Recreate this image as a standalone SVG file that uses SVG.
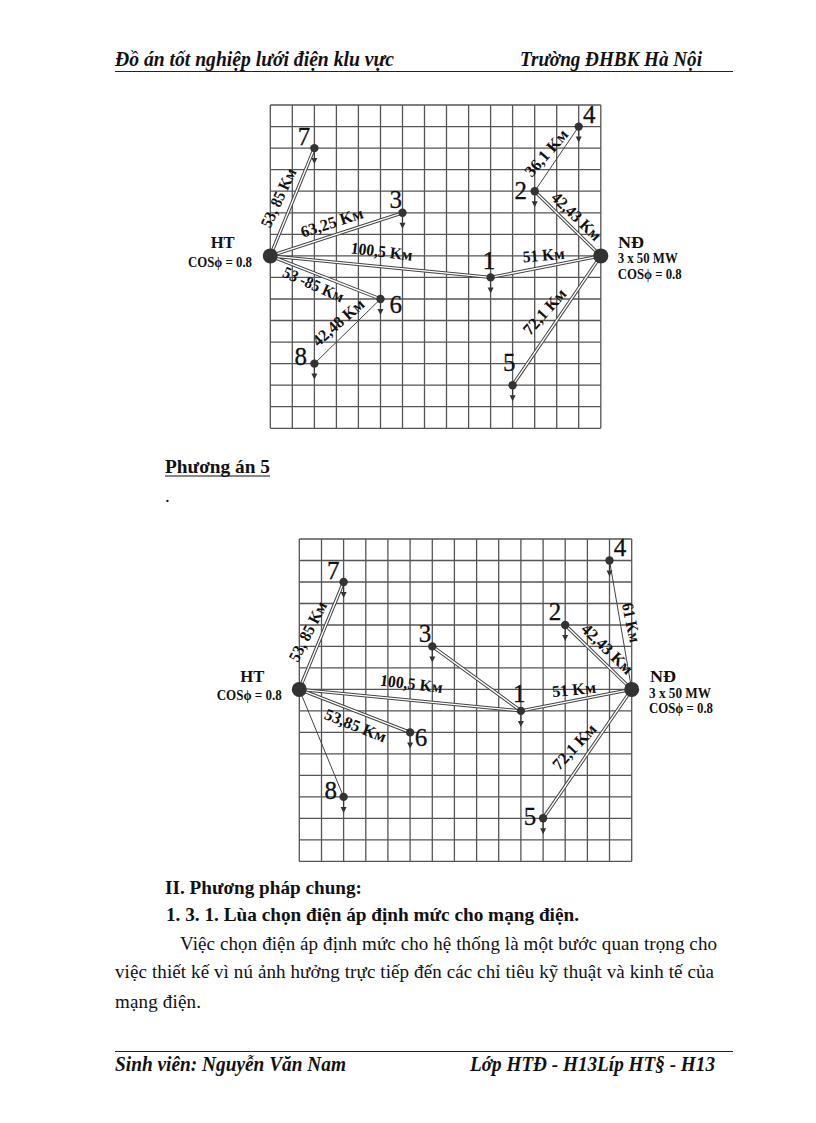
<svg xmlns="http://www.w3.org/2000/svg" xmlns:xlink="http://www.w3.org/1999/xlink" width="816" height="1123" viewBox="0 0 816 1123">
<style>
text{font-family:"Liberation Serif","Times New Roman",serif;fill:#111}
.grid{fill:none;stroke:#555;stroke-width:1.3}
.dbl{stroke:#444;stroke-width:3.4;fill:none}
.dbi{stroke:#fff;stroke-width:1.4;fill:none}
.sgl{stroke:#444;stroke-width:1;fill:none}
.n{fill:#333}
.num{font-size:25px;stroke:#111;stroke-width:.3}
.km{font-size:16.5px;font-weight:bold}
.nm{font-size:17px;font-weight:bold}
.sm{font-size:14px;font-weight:bold}
.hd{font-size:20px;font-weight:bold;font-style:italic}
.b{font-size:19px;font-weight:bold}
.p{font-size:19px}
</style>
<defs>
<g id="load"><circle class="n" r="4.2"/><path d="M0 0V11" stroke="#333" stroke-width="1"/><path class="n" d="M-3 10H3L0 16Z"/></g>
</defs>
<rect width="816" height="1123" fill="#fff"/>

<g id="page-header">
<text class="hd" x="115" y="66" textLength="279" lengthAdjust="spacingAndGlyphs">Đồ án tốt nghiệp lưới điện klu vực</text>
<text class="hd" x="520" y="66" textLength="182" lengthAdjust="spacingAndGlyphs">Trường ĐHBK Hà Nội</text>
<path d="M115 71.5H733" stroke="#222" stroke-width="1"/>
</g>

<g id="grid-1"><path class="grid" d="M270.3 105V428.3M292.3 105V428.3M314.4 105V428.3M336.4 105V428.3M358.4 105V428.3M380.5 105V428.3M402.5 105V428.3M424.5 105V428.3M446.5 105V428.3M468.6 105V428.3M490.6 105V428.3M512.6 105V428.3M534.7 105V428.3M556.7 105V428.3M578.7 105V428.3M600.8 105V428.3M270.3 105H600.8M270.3 126.6H600.8M270.3 148.1H600.8M270.3 169.7H600.8M270.3 191.2H600.8M270.3 212.8H600.8M270.3 234.3H600.8M270.3 255.9H600.8M270.3 277.4H600.8M270.3 299H600.8M270.3 320.5H600.8M270.3 342.1H600.8M270.3 363.6H600.8M270.3 385.2H600.8M270.3 406.7H600.8M270.3 428.3H600.8"/></g>

<g id="connectors-1">
<path class="dbl" d="M270.3 255.9L314.4 148.1M270.3 255.9L402.5 212.8M270.3 255.9L490.6 277.4M270.3 255.9L380.5 299M534.7 191.2L600.8 255.9M490.6 277.4L600.8 255.9M512.6 385.2L600.8 255.9"/>
<path class="dbi" d="M270.3 255.9L314.4 148.1M270.3 255.9L402.5 212.8M270.3 255.9L490.6 277.4M270.3 255.9L380.5 299M534.7 191.2L600.8 255.9M490.6 277.4L600.8 255.9M512.6 385.2L600.8 255.9"/>
<path class="sgl" d="M380.5 299L314.4 363.6M534.7 191.2L578.7 126.6"/>
<g class="km">
<text transform="translate(279 198) rotate(-65)" text-anchor="middle" y="5" textLength="63" lengthAdjust="spacingAndGlyphs">53, 85 Kм</text>
<text transform="translate(332 223) rotate(-18)" text-anchor="middle" y="5" textLength="65" lengthAdjust="spacingAndGlyphs">63,25 Kм</text>
<text transform="translate(381.7 252) rotate(7)" text-anchor="middle" y="5" textLength="62" lengthAdjust="spacingAndGlyphs">100,5 Kм</text>
<text transform="translate(313.3 285) rotate(24)" text-anchor="middle" y="5" textLength="65" lengthAdjust="spacingAndGlyphs">53 -85 Kм</text>
<text transform="translate(338.7 322.7) rotate(-41)" text-anchor="middle" y="5" textLength="63" lengthAdjust="spacingAndGlyphs">42,48 Kм</text>
<text transform="translate(546.7 153.3) rotate(-49)" text-anchor="middle" y="5" textLength="57" lengthAdjust="spacingAndGlyphs">36,1 Kм</text>
<text transform="translate(576 216.7) rotate(44)" text-anchor="middle" y="5" textLength="62" lengthAdjust="spacingAndGlyphs">42,43 Kм</text>
<text transform="translate(543.7 255.7) rotate(-5)" text-anchor="middle" y="5" textLength="42" lengthAdjust="spacingAndGlyphs">51 Kм</text>
<text transform="translate(545 312) rotate(-48)" text-anchor="middle" y="5" textLength="56" lengthAdjust="spacingAndGlyphs">72,1 Kм</text>
</g>
</g>

<g id="d1-HT"><circle class="n" cx="270.3" cy="255.9" r="7.5"/><text class="nm" x="222.7" y="247.7" text-anchor="middle" textLength="24" lengthAdjust="spacingAndGlyphs">HT</text><text class="sm" x="188" y="266.7" textLength="64" lengthAdjust="spacingAndGlyphs">COSϕ = 0.8</text></g>
<g id="d1-ND"><circle class="n" cx="600.8" cy="255.9" r="7.5"/><text class="nm" x="618" y="247.7" textLength="26" lengthAdjust="spacingAndGlyphs">NĐ</text><text class="sm" x="617.7" y="263.3" textLength="60" lengthAdjust="spacingAndGlyphs">3 x 50 MW</text><text class="sm" x="617.7" y="279" textLength="64" lengthAdjust="spacingAndGlyphs">COSϕ = 0.8</text></g>
<g id="d1-1"><use href="#load" xlink:href="#load" x="490.6" y="277.4"/><text class="num" x="489" y="269" text-anchor="middle">1</text></g>
<g id="d1-2"><use href="#load" xlink:href="#load" x="534.7" y="191.2"/><text class="num" x="520.7" y="199" text-anchor="middle">2</text></g>
<g id="d1-3"><use href="#load" xlink:href="#load" x="402.5" y="212.8"/><text class="num" x="395.7" y="207.7" text-anchor="middle">3</text></g>
<g id="d1-4"><use href="#load" xlink:href="#load" x="578.7" y="126.6"/><text class="num" x="589.3" y="122.7" text-anchor="middle">4</text></g>
<g id="d1-5"><use href="#load" xlink:href="#load" x="512.6" y="385.2"/><text class="num" x="509.3" y="371" text-anchor="middle">5</text></g>
<g id="d1-6"><use href="#load" xlink:href="#load" x="380.5" y="299"/><text class="num" x="395.7" y="313" text-anchor="middle">6</text></g>
<g id="d1-7"><use href="#load" xlink:href="#load" x="314.4" y="148.1"/><text class="num" x="304" y="145" text-anchor="middle">7</text></g>
<g id="d1-8"><use href="#load" xlink:href="#load" x="314.4" y="363.6"/><text class="num" x="300.7" y="365" text-anchor="middle">8</text></g>

<g id="caption">
<text class="b" x="165" y="473" textLength="105" lengthAdjust="spacingAndGlyphs">Phương án 5</text>
<path d="M165 476H270" stroke="#111" stroke-width="1"/>
<text class="p" x="165" y="502">.</text>
</g>

<g id="grid-2"><path class="grid" d="M299.3 539V861.3M321.5 539V861.3M343.6 539V861.3M365.8 539V861.3M387.9 539V861.3M410.1 539V861.3M432.3 539V861.3M454.4 539V861.3M476.6 539V861.3M498.7 539V861.3M520.9 539V861.3M543.1 539V861.3M565.2 539V861.3M587.4 539V861.3M609.5 539V861.3M631.7 539V861.3M299.3 539H631.7M299.3 560.5H631.7M299.3 582H631.7M299.3 603.5H631.7M299.3 625H631.7M299.3 646.4H631.7M299.3 667.9H631.7M299.3 689.4H631.7M299.3 710.9H631.7M299.3 732.4H631.7M299.3 753.9H631.7M299.3 775.4H631.7M299.3 796.9H631.7M299.3 818.3H631.7M299.3 839.8H631.7M299.3 861.3H631.7"/></g>

<g id="connectors-2">
<path class="dbl" d="M299.3 689.4L343.6 582M299.3 689.4L520.9 710.9M299.3 689.4L410.1 732.4M432.3 646.4L520.9 710.9M520.9 710.9L631.7 689.4M565.2 625L631.7 689.4M543.1 818.3L631.7 689.4"/>
<path class="dbi" d="M299.3 689.4L343.6 582M299.3 689.4L520.9 710.9M299.3 689.4L410.1 732.4M432.3 646.4L520.9 710.9M520.9 710.9L631.7 689.4M565.2 625L631.7 689.4M543.1 818.3L631.7 689.4"/>
<path class="sgl" d="M299.3 689.4L343.6 796.9M609.5 560.5L631.7 689.4"/>
<g class="km">
<text transform="translate(308.3 631.7) rotate(-63)" text-anchor="middle" y="5" textLength="65" lengthAdjust="spacingAndGlyphs">53, 85 Kм</text>
<text transform="translate(411.3 684.3) rotate(7)" text-anchor="middle" y="5" textLength="63" lengthAdjust="spacingAndGlyphs">100,5 Kм</text>
<text transform="translate(355.3 726) rotate(22)" text-anchor="middle" y="5" textLength="65" lengthAdjust="spacingAndGlyphs">53,85 Kм</text>
<text transform="translate(630.7 622.7) rotate(78)" text-anchor="middle" y="5" textLength="40" lengthAdjust="spacingAndGlyphs">61 Kм</text>
<text transform="translate(607 649.3) rotate(44)" text-anchor="middle" y="5" textLength="65" lengthAdjust="spacingAndGlyphs">42,43 Kм</text>
<text transform="translate(574 690) rotate(-6)" text-anchor="middle" y="5" textLength="44" lengthAdjust="spacingAndGlyphs">51 Kм</text>
<text transform="translate(574.7 747) rotate(-47)" text-anchor="middle" y="5" textLength="56" lengthAdjust="spacingAndGlyphs">72,1 Kм</text>
</g>
</g>

<g id="d2-HT"><circle class="n" cx="299.3" cy="689.4" r="7.5"/><text class="nm" x="252.3" y="681.7" text-anchor="middle" textLength="24" lengthAdjust="spacingAndGlyphs">HT</text><text class="sm" x="216.7" y="700" textLength="65" lengthAdjust="spacingAndGlyphs">COSϕ = 0.8</text></g>
<g id="d2-ND"><circle class="n" cx="631.7" cy="689.4" r="7.5"/><text class="nm" x="650" y="681.7" textLength="26" lengthAdjust="spacingAndGlyphs">NĐ</text><text class="sm" x="649" y="697.7" textLength="62" lengthAdjust="spacingAndGlyphs">3 x 50 MW</text><text class="sm" x="649" y="712.7" textLength="64" lengthAdjust="spacingAndGlyphs">COSϕ = 0.8</text></g>
<g id="d2-1"><use href="#load" xlink:href="#load" x="520.9" y="710.9"/><text class="num" x="519.3" y="701.7" text-anchor="middle">1</text></g>
<g id="d2-2"><use href="#load" xlink:href="#load" x="565.2" y="625"/><text class="num" x="555" y="620" text-anchor="middle">2</text></g>
<g id="d2-3"><use href="#load" xlink:href="#load" x="432.3" y="646.4"/><text class="num" x="425" y="642.3" text-anchor="middle">3</text></g>
<g id="d2-4"><use href="#load" xlink:href="#load" x="609.5" y="560.5"/><text class="num" x="620" y="556" text-anchor="middle">4</text></g>
<g id="d2-5"><use href="#load" xlink:href="#load" x="543.1" y="818.3"/><text class="num" x="530" y="825" text-anchor="middle">5</text></g>
<g id="d2-6"><use href="#load" xlink:href="#load" x="410.1" y="732.4"/><text class="num" x="421" y="746" text-anchor="middle">6</text></g>
<g id="d2-7"><use href="#load" xlink:href="#load" x="343.6" y="582"/><text class="num" x="333.3" y="579" text-anchor="middle">7</text></g>
<g id="d2-8"><use href="#load" xlink:href="#load" x="343.6" y="796.9"/><text class="num" x="330.7" y="799" text-anchor="middle">8</text></g>

<g id="body">
<text class="b" x="165" y="894" textLength="197" lengthAdjust="spacingAndGlyphs">II. Phương pháp chung:</text>
<text class="b" x="166" y="921" textLength="413" lengthAdjust="spacingAndGlyphs">1. 3. 1. Lùa chọn điện áp định mức cho mạng điện.</text>
<text class="p" x="180" y="950" textLength="537" lengthAdjust="spacing">Việc chọn điện áp định mức cho hệ thống là một bước quan trọng cho</text>
<text class="p" x="115" y="978" textLength="599" lengthAdjust="spacing">việc thiết kế vì nú ảnh hưởng trực tiếp đến các chỉ tiêu kỹ thuật và kinh tế của</text>
<text class="p" x="115" y="1008" textLength="86" lengthAdjust="spacing">mạng điện.</text>
</g>

<g id="page-footer">
<path d="M115 1051.5H733" stroke="#222" stroke-width="1"/>
<text class="hd" x="115" y="1071" textLength="231" lengthAdjust="spacingAndGlyphs">Sinh viên: Nguyễn Văn Nam</text>
<text class="hd" x="470" y="1071" textLength="245" lengthAdjust="spacingAndGlyphs">Lớp HTĐ - H13Líp HT§ - H13</text>
</g>
</svg>
